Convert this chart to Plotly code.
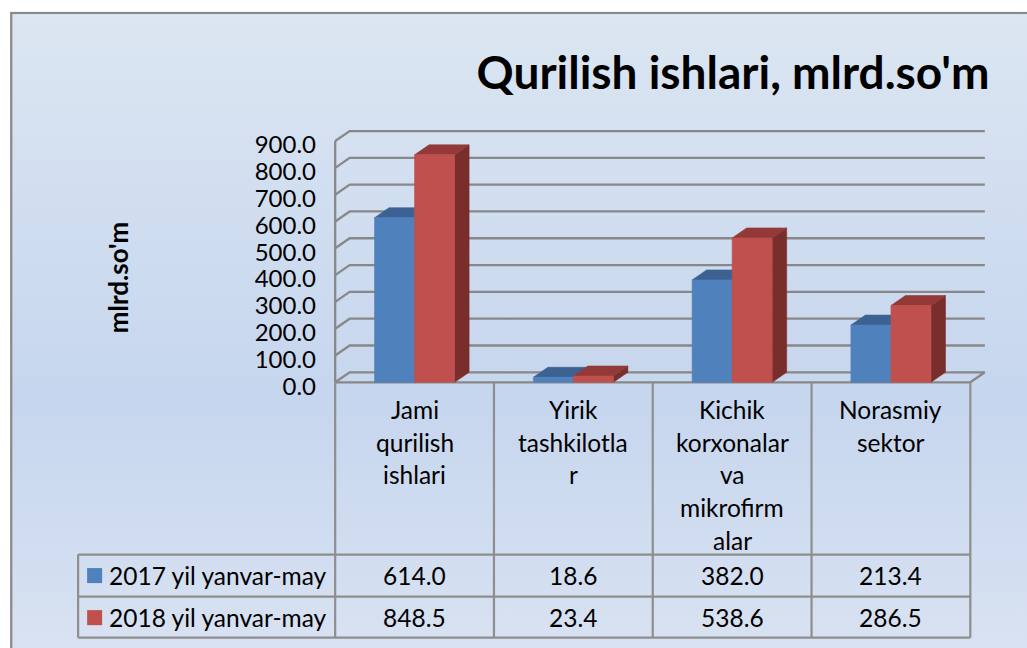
import base64
import plotly.graph_objects as go

# ---------------- data ----------------
categories = ["Jami qurilish ishlari", "Yirik tashkilotlar",
              "Kichik korxonalar va mikrofirmalar", "Norasmiy sektor"]
category_lines = [["Jami", "qurilish", "ishlari"],
                  ["Yirik", "tashkilotla", "r"],
                  ["Kichik", "korxonalar", "va", "mikrofirm", "alar"],
                  ["Norasmiy", "sektor"]]
series_names = ["2017 yil yanvar-may", "2018 yil yanvar-may"]
values_2017 = [614.0, 18.6, 382.0, 213.4]
values_2018 = [848.5, 23.4, 538.6, 286.5]
y_ticks = [0, 100, 200, 300, 400, 500, 600, 700, 800, 900]
title_text = "Qurilish ishlari, mlrd.so'm"
y_title = "mlrd.so'm"

# ---------------- styling / geometry ----------------
W, H = 1027, 648
FONT = "Lato"
u = 158.75            # px per category
s = 0.2677            # px per value unit
x_front0 = 335        # px of left edge of category slot 0
y_zero = 382          # px of value 0 on front face
dx = 14.5 / u         # depth offset in x data units
dy = 10.0 / s         # depth offset in y data units
bar_w = 0.252
x_min, x_max = -0.52, 3.5 + dx + 0.02
y_min, y_max = -10, 945

L = x_front0 + (x_min + 0.5) * u
R = x_front0 + (x_max + 0.5) * u
B = y_zero - y_min * s
T = y_zero - y_max * s

def px2x(p):
    return (p - L) / (R - L)

def py2y(p):
    return (B - p) / (B - T)

def d2px(xv):
    return x_front0 + (xv + 0.5) * u

blue = dict(front="#4F81BD", top="#3C6293", side="#30507A")
red = dict(front="#C0504D", top="#933A38", side="#7A2E2C")
grid_c = "#888888"
tbl_c = "#8E8E8E"

fig = go.Figure()

# gridlines (3-D walls)
gx, gy = [], []
for v in y_ticks:
    gx += [-0.5, -0.5 + dx, 3.5 + dx, None]
    gy += [v, v + dy, v + dy, None]
gx += [-0.5, -0.5, None, -0.5, 3.5, 3.5 + dx, None]
gy += [0, y_ticks[-1], None, 0, 0, dy, None]
fig.add_trace(go.Scatter(x=gx, y=gy, mode="lines", line=dict(color=grid_c, width=2.3),
                         hoverinfo="skip", showlegend=False, cliponaxis=False))

def add_series(vals, offset, col, name):
    fx, fy, tx, ty, sx, sy = [], [], [], [], [], []
    for i, v in enumerate(vals):
        x0 = i + offset
        x1 = x0 + bar_w
        fx += [x0, x1, x1, x0, x0, None]
        fy += [0, 0, v, v, 0, None]
        tx += [x0, x0 + dx, x1 + dx, x1, x0, None]
        ty += [v, v + dy, v + dy, v, v, None]
        sx += [x1, x1 + dx, x1 + dx, x1, x1, None]
        sy += [0, dy, v + dy, v, 0, None]
    for xs, ys, c in [(sx, sy, col["side"]), (tx, ty, col["top"]), (fx, fy, col["front"])]:
        fig.add_trace(go.Scatter(x=xs, y=ys, mode="lines", fill="toself", fillcolor=c,
                                 line=dict(width=0.6, color=c), name=name,
                                 hoverinfo="skip", showlegend=False))

add_series(values_2017, -bar_w, blue, series_names[0])
add_series(values_2018, 0.0, red, series_names[1])

# ---------------- background gradient ----------------
svg = ('<svg xmlns="http://www.w3.org/2000/svg" width="1030" height="650">'
       '<defs><linearGradient id="g" x1="0" y1="0" x2="0" y2="1">'
       '<stop offset="0" stop-color="#DCE6F2"/>'
       '<stop offset="0.58" stop-color="#C6D6EE"/>'
       '<stop offset="1" stop-color="#DAE3F2"/>'
       '</linearGradient></defs>'
       '<rect x="1" y="1" width="1040" height="660" fill="url(#g)" stroke="#8A8A8A" stroke-width="2.5"/>'
       '</svg>')
src = "data:image/svg+xml;base64," + base64.b64encode(svg.encode()).decode()
fig.add_layout_image(dict(source=src, xref="paper", yref="paper",
                          x=px2x(10), y=py2y(12), sizex=1030 / (R - L), sizey=650 / (B - T),
                          xanchor="left", yanchor="top", sizing="stretch", layer="below"))

# ---------------- data table ----------------
tbl_top, hdr_bot, r1_bot, r2_bot = 382, 554, 596, 637
leg_left = 78
shapes = []
def line_px(x0, y0, x1, y1):
    shapes.append(dict(type="line", xref="paper", yref="paper",
                       x0=px2x(x0), y0=py2y(y0), x1=px2x(x1), y1=py2y(y1),
                       line=dict(color=tbl_c, width=2.2)))
right_px = d2px(3.5)
for k in range(5):
    xp = d2px(k - 0.5)
    line_px(xp, tbl_top, xp, r2_bot)
line_px(leg_left, hdr_bot, leg_left, r2_bot)
for yp in (hdr_bot, r1_bot, r2_bot):
    line_px(leg_left, yp, right_px, yp)

annotations = []
tfont = dict(family=FONT, size=24.5, color="black")
for i, lines in enumerate(category_lines):
    for j, t in enumerate(lines):
        annotations.append(dict(text=t, x=i, xref="x", y=py2y(409 + 32.7 * j), yref="paper",
                                showarrow=False, font=tfont, xanchor="center", yanchor="middle"))
for row_y, vals in [(575, values_2017), (617, values_2018)]:
    for i, v in enumerate(vals):
        annotations.append(dict(text=f"{v:.1f}", x=i, xref="x", y=py2y(row_y), yref="paper",
                                showarrow=False, font=tfont, xanchor="center", yanchor="middle"))
for row_y, name, col in [(575, series_names[0], blue["front"]), (617, series_names[1], red["front"])]:
    shapes.append(dict(type="rect", xref="paper", yref="paper",
                       x0=px2x(87), x1=px2x(102), y0=py2y(row_y - 7.5), y1=py2y(row_y + 7.5),
                       fillcolor=col, line=dict(width=0)))
    annotations.append(dict(text=name, x=px2x(107), xref="paper", y=py2y(row_y), yref="paper",
                            showarrow=False, font=tfont, xanchor="left", yanchor="middle"))

# axis title
annotations.append(dict(text=f"<b>{y_title}</b>", x=px2x(118), y=py2y(277), xref="paper", yref="paper",
                        textangle=-90, showarrow=False, font=dict(family=FONT, size=26, color="black"),
                        xanchor="center", yanchor="middle"))

fig.update_layout(
    width=W, height=H, autosize=False,
    margin=dict(l=L, r=W - R, t=T, b=H - B, pad=0),
    paper_bgcolor="white", plot_bgcolor="rgba(0,0,0,0)",
    title=dict(text=f"<b>{title_text}</b>", xref="container", yref="container",
               x=733 / W, y=1 - 73 / H, xanchor="center", yanchor="middle",
               font=dict(family=FONT, size=46, color="black")),
    xaxis=dict(range=[x_min, x_max], showgrid=False, zeroline=False, showticklabels=False,
               showline=False, ticks="", fixedrange=True),
    yaxis=dict(range=[y_min, y_max], showgrid=False, zeroline=False, showline=False,
               tickvals=y_ticks, ticktext=[f"{v:.1f}" for v in y_ticks], ticks="",
               ticklabelstandoff=15, ticklabelshift=4,
               tickfont=dict(family=FONT, size=24, color="black"),
               fixedrange=True),
    shapes=shapes, annotations=annotations, showlegend=False,
)

fig.write_html("out.html", config={"displayModeBar": False},
               post_script="document.body.style.margin='0';document.body.style.padding='0';")
